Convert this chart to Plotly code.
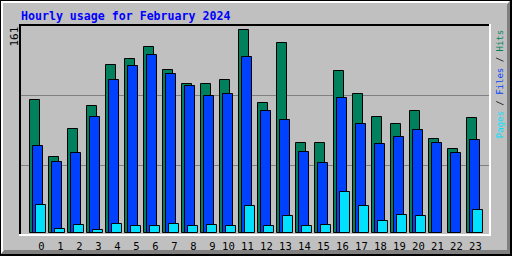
import plotly.graph_objects as go

# ---- data ----
hours = list(range(24))
hour_labels = [str(h) for h in hours]
hits = [105, 60, 82, 100, 133, 138, 147, 129, 118, 118, 121, 161,
        103, 150, 71, 71, 128, 110, 92, 86, 96, 74, 66, 91]
files = [69, 56, 63, 92, 121, 132, 141, 126, 116, 108, 110, 139,
         96, 89, 64, 55, 107, 86, 70, 76, 81, 71, 63, 73]
pages = [22, 3, 6, 2, 7, 5, 5, 7, 5, 6, 5, 21,
         5, 13, 5, 6, 32, 21, 9, 14, 13, 0, 0, 18]
title = "Hourly usage for February 2024"
max_label = "161"

# ---- colours ----
C_HITS = "#00805C"
C_FILES = "#0040FF"
C_PAGES = "#00E0FF"
BG = "#C0C0C0"
SHADOW = "#808080"

W, H = 512, 256
L, R, T, B = 21, 489, 26, 234  # plot area in pixels


def px(p):
    return (p - L) / (R - L)


def py(p):
    return (B - p) / (B - T)


slot = 19.0
unit_px = 203.0 / 161.0
x0 = -(41.3 - L) / slot
x1 = x0 + (R - L) / slot
y_lo = -(B - 232.5) / unit_px
y_hi = (232.5 - T) / unit_px

bw = 10.0 / slot
fig = go.Figure()
for name, vals, col, off in [("Hits", hits, C_HITS, (29.5 - 41.3) / slot),
                             ("Files", files, C_FILES, (32.5 - 41.3) / slot),
                             ("Pages", pages, C_PAGES, (35.5 - 41.3) / slot)]:
    fig.add_trace(go.Bar(
        x=hours, y=[v if v > 0 else None for v in vals], name=name,
        width=bw, offset=off,
        marker=dict(color=col, line=dict(color="#000000", width=1)),
        hoverinfo="skip"))

shapes = []


def rect(xa, ya, xb, yb, color):
    shapes.append(dict(type="rect", xref="paper", yref="paper",
                       x0=px(xa), x1=px(xb), y0=py(ya), y1=py(yb),
                       fillcolor=color, line=dict(width=0), layer="below"))


def poly(points, color):
    d = "M " + " L ".join(f"{px(a)},{py(b)}" for a, b in points) + " Z"
    shapes.append(dict(type="path", xref="paper", yref="paper", path=d,
                       fillcolor=color, line=dict(width=0), layer="below"))


# outer frame
rect(1, 1, 510, 254, "#FFFFFF")
poly([(510, 1), (510, 254), (1, 254), (4, 250), (507, 250), (507, 4)], SHADOW)
rect(3, 3, 507, 250, BG)
# plot frame
rect(19, 24, 489, 26, "#000000")
rect(19, 24, 21, 234, "#000000")
rect(19, 234, 491, 236, "#FFFFFF")
rect(489, 24, 491, 236, "#FFFFFF")

mono = "DejaVu Sans Mono"
annotations = [
    dict(text="<b>" + title + "</b>", xref="paper", yref="paper",
         x=px(19.5), y=py(15.5), xanchor="left", yanchor="middle",
         showarrow=False, borderpad=0,
         font=dict(family=mono, size=11.6, color="#0000FF")),
    dict(text=max_label, xref="paper", yref="paper", textangle=-90,
         x=px(14), y=py(36.5), xanchor="center", yanchor="middle",
         showarrow=False, borderpad=0,
         font=dict(family=mono, size=11, color="#000000")),
    dict(text=(f'<span style="color:{C_PAGES}">Pages</span>'
               f'<span style="color:#000000"> / </span>'
               f'<span style="color:{C_FILES}">Files</span>'
               f'<span style="color:#000000"> / </span>'
               f'<span style="color:{C_HITS}">Hits</span>'),
         xref="paper", yref="paper", textangle=-90,
         x=px(499.5), y=py(83.7), xanchor="center", yanchor="middle",
         showarrow=False, borderpad=0,
         font=dict(family=mono, size=9)),
]

tickvals = [h - (0.15 if len(lbl) > 1 else 0.0) for h, lbl in zip(hours, hour_labels)]

fig.update_layout(
    width=W, height=H, autosize=False,
    margin=dict(l=L, r=W - R, t=T, b=H - B, pad=0, autoexpand=False),
    paper_bgcolor="#000000", plot_bgcolor="rgba(0,0,0,0)",
    barmode="overlay", bargap=0, showlegend=False,
    shapes=shapes, annotations=annotations,
    xaxis=dict(range=[x0, x1], tickvals=tickvals, ticktext=hour_labels,
               showgrid=False, zeroline=False, showline=False, automargin=False,
               ticks="", ticklabelstandoff=4,
               tickfont=dict(family=mono, size=10.5, color="#000000"),
               fixedrange=True),
    yaxis=dict(range=[y_lo, y_hi], automargin=False,
               tickvals=[(232.5 - 165.5) / unit_px, (232.5 - 95.5) / unit_px],
               showticklabels=False, showgrid=True, gridcolor=SHADOW, gridwidth=1,
               zeroline=False, showline=False, ticks="", fixedrange=True),
)

fig.write_html("out.html", config={"displayModeBar": False})
